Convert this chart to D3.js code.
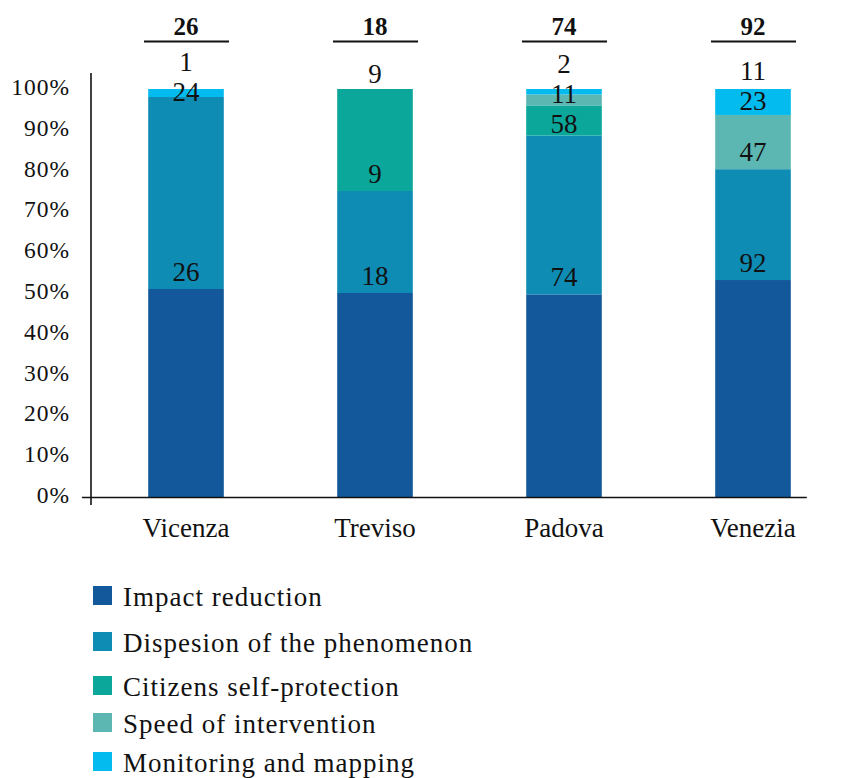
<!DOCTYPE html>
<html>
<head>
<meta charset="utf-8">
<script src="https://cdn.jsdelivr.net/npm/d3@7"></script>
<style>
  body { margin: 0; background: #ffffff; }
  text { font-family: "Liberation Serif", "Times New Roman", serif; fill: #111111; }
</style>
</head>
<body>
<svg id="chart" width="849" height="778"></svg>
<script>
// Answers per city (counts), one array per answer category
const cities = ["Vicenza", "Treviso", "Padova", "Venezia"];
const respondents = [26, 18, 74, 92];
const seriesNames = [
  "Impact reduction",
  "Dispesion of the phenomenon",
  "Citizens self-protection",
  "Speed of intervention",
  "Monitoring and mapping"
];
const impactReduction        = [26, 18, 74, 92];
const dispersion             = [24,  9, 58, 47];
const citizensSelfProtection = [ 0,  9, 11,  0];
const speedOfIntervention    = [ 0,  0,  4, 23];
const monitoringMapping      = [ 1,  0,  2, 11];
const yTickValues = [0, 0.1, 0.2, 0.3, 0.4, 0.5, 0.6, 0.7, 0.8, 0.9, 1];
// segments whose count is not printed
const unlabeled = [["Padova", "Speed of intervention"]];

const seriesColors = ["#12589b", "#0e8cb3", "#0aa79a", "#5cb6b1", "#03bbee"];
const seriesValues = [impactReduction, dispersion, citizensSelfProtection, speedOfIntervention, monitoringMapping];

const rows = cities.map((c, i) => {
  const r = { city: c, n: respondents[i] };
  seriesNames.forEach((s, k) => { r[s] = seriesValues[k][i]; });
  return r;
});

const svg = d3.select("#chart");

const x = d3.scaleBand().domain(cities).range([91.5, 847.5]).paddingInner(0.6).paddingOuter(0.3);
const y = d3.scaleLinear().domain([0, 1]).range([497, 89]);
const color = d3.scaleOrdinal().domain(seriesNames).range(seriesColors);

const stacked = d3.stack().keys(seriesNames).offset(d3.stackOffsetExpand)(rows);

// bars
svg.append("g").selectAll("g")
  .data(stacked)
  .join("g")
    .attr("fill", d => color(d.key))
  .selectAll("rect")
  .data(d => d.map(p => Object.assign(p, { key: d.key })))
  .join("rect")
    .attr("x", d => x(d.data.city))
    .attr("width", x.bandwidth())
    .attr("y", d => y(d[1]))
    .attr("height", d => Math.max(0, y(d[0]) - y(d[1])));

// y axis (labels only, frame lines drawn separately)
const yAxis = d3.axisLeft(y).tickValues(yTickValues).tickFormat(d3.format(".0%")).tickSize(0).tickPadding(21);
const gy = svg.append("g").attr("transform", "translate(91,0)").call(yAxis);
gy.select(".domain").remove();
gy.selectAll("text")
  .attr("dy", "0.32em")
  .attr("y", -2)
  .style("font-family", "\"Liberation Serif\", serif")
  .style("font-size", "23.5px")
  .style("letter-spacing", "1px")
  .attr("fill", "#111");

// axis lines
svg.append("line")
  .attr("x1", 91).attr("x2", 91)
  .attr("y1", y(1) - 16).attr("y2", y(0) + 8)
  .attr("stroke", "#111").attr("stroke-width", 1.6);
svg.append("line")
  .attr("x1", 82).attr("x2", x(cities[cities.length - 1]) + x.bandwidth() + 16)
  .attr("y1", y(0) + 0.5).attr("y2", y(0) + 0.5)
  .attr("stroke", "#111").attr("stroke-width", 1.6);

// x axis labels
const xAxis = d3.axisBottom(x).tickSize(0).tickPadding(0);
const gx = svg.append("g").attr("transform", "translate(0,537)").call(xAxis);
gx.select(".domain").remove();
gx.selectAll("text")
  .attr("y", 0).attr("dy", 0)
  .style("font-family", "\"Liberation Serif\", serif")
  .style("font-size", "27px")
  .attr("fill", "#111");

// respondents per city, above each bar
const head = svg.append("g").selectAll("g").data(rows).join("g")
  .attr("transform", d => `translate(${x(d.city) + x.bandwidth() / 2},0)`);
head.append("text")
  .attr("text-anchor", "middle")
  .attr("y", 35)
  .style("font-size", "25px")
  .style("font-weight", "bold")
  .text(d => d.n);
head.append("line")
  .attr("x1", -42).attr("x2", 43)
  .attr("y1", 41.5).attr("y2", 41.5)
  .attr("stroke", "#111").attr("stroke-width", 2);

// count labels: each sits just above the top of its segment (the topmost one
// above the bar); labels that would collide are spread apart around their mean
const isUnlabeled = (city, key) => unlabeled.some(u => u[0] === city && u[1] === key);
const labelGap = 30;
function spread(items) {
  // items sorted by desired baseline, top first
  let clusters = items.map(it => ({ members: [it], mean: it.want }));
  let merged = true;
  const place = c => { const n = c.members.length; c.members.forEach((m, k) => { m.y = c.mean + (k - (n - 1) / 2) * labelGap; }); };
  clusters.forEach(place);
  while (merged) {
    merged = false;
    for (let k = 0; k < clusters.length - 1; k++) {
      const a = clusters[k], b = clusters[k + 1];
      const aLast = a.members[a.members.length - 1].y, bFirst = b.members[0].y;
      if (bFirst - aLast < labelGap) {
        const members = a.members.concat(b.members);
        const c = { members, mean: d3.mean(members, m => m.want) };
        place(c);
        clusters.splice(k, 2, c);
        merged = true;
        break;
      }
    }
  }
  return items;
}
const labelLayer = svg.append("g");
cities.forEach((city, i) => {
  const segs = stacked
    .map(s => ({ key: s.key, v: s[i].data[s.key], top: s[i][1] }))
    .filter(s => s.v > 0 && !isUnlabeled(city, s.key))
    .reverse();
  segs.forEach((s, j) => { s.want = j === 0 ? y(1) - 6 : y(s.top) - 8; });
  spread(segs).forEach(s => {
    labelLayer.append("text")
      .attr("x", x(city) + x.bandwidth() / 2)
      .attr("y", s.y)
      .attr("text-anchor", "middle")
      .style("font-size", "27px")
      .text(s.v);
  });
});

// legend
const legendY = [586, 632, 676, 713, 752];
const legend = svg.append("g").selectAll("g").data(seriesNames).join("g")
  .attr("transform", (d, i) => `translate(93,${legendY[i]})`);
legend.append("rect")
  .attr("width", 19).attr("height", 19)
  .attr("fill", d => color(d));
legend.append("text")
  .attr("x", 30).attr("y", 20)
  .style("font-size", "27px")
  .style("letter-spacing", "1px")
  .text(d => d);
</script>
</body>
</html>
